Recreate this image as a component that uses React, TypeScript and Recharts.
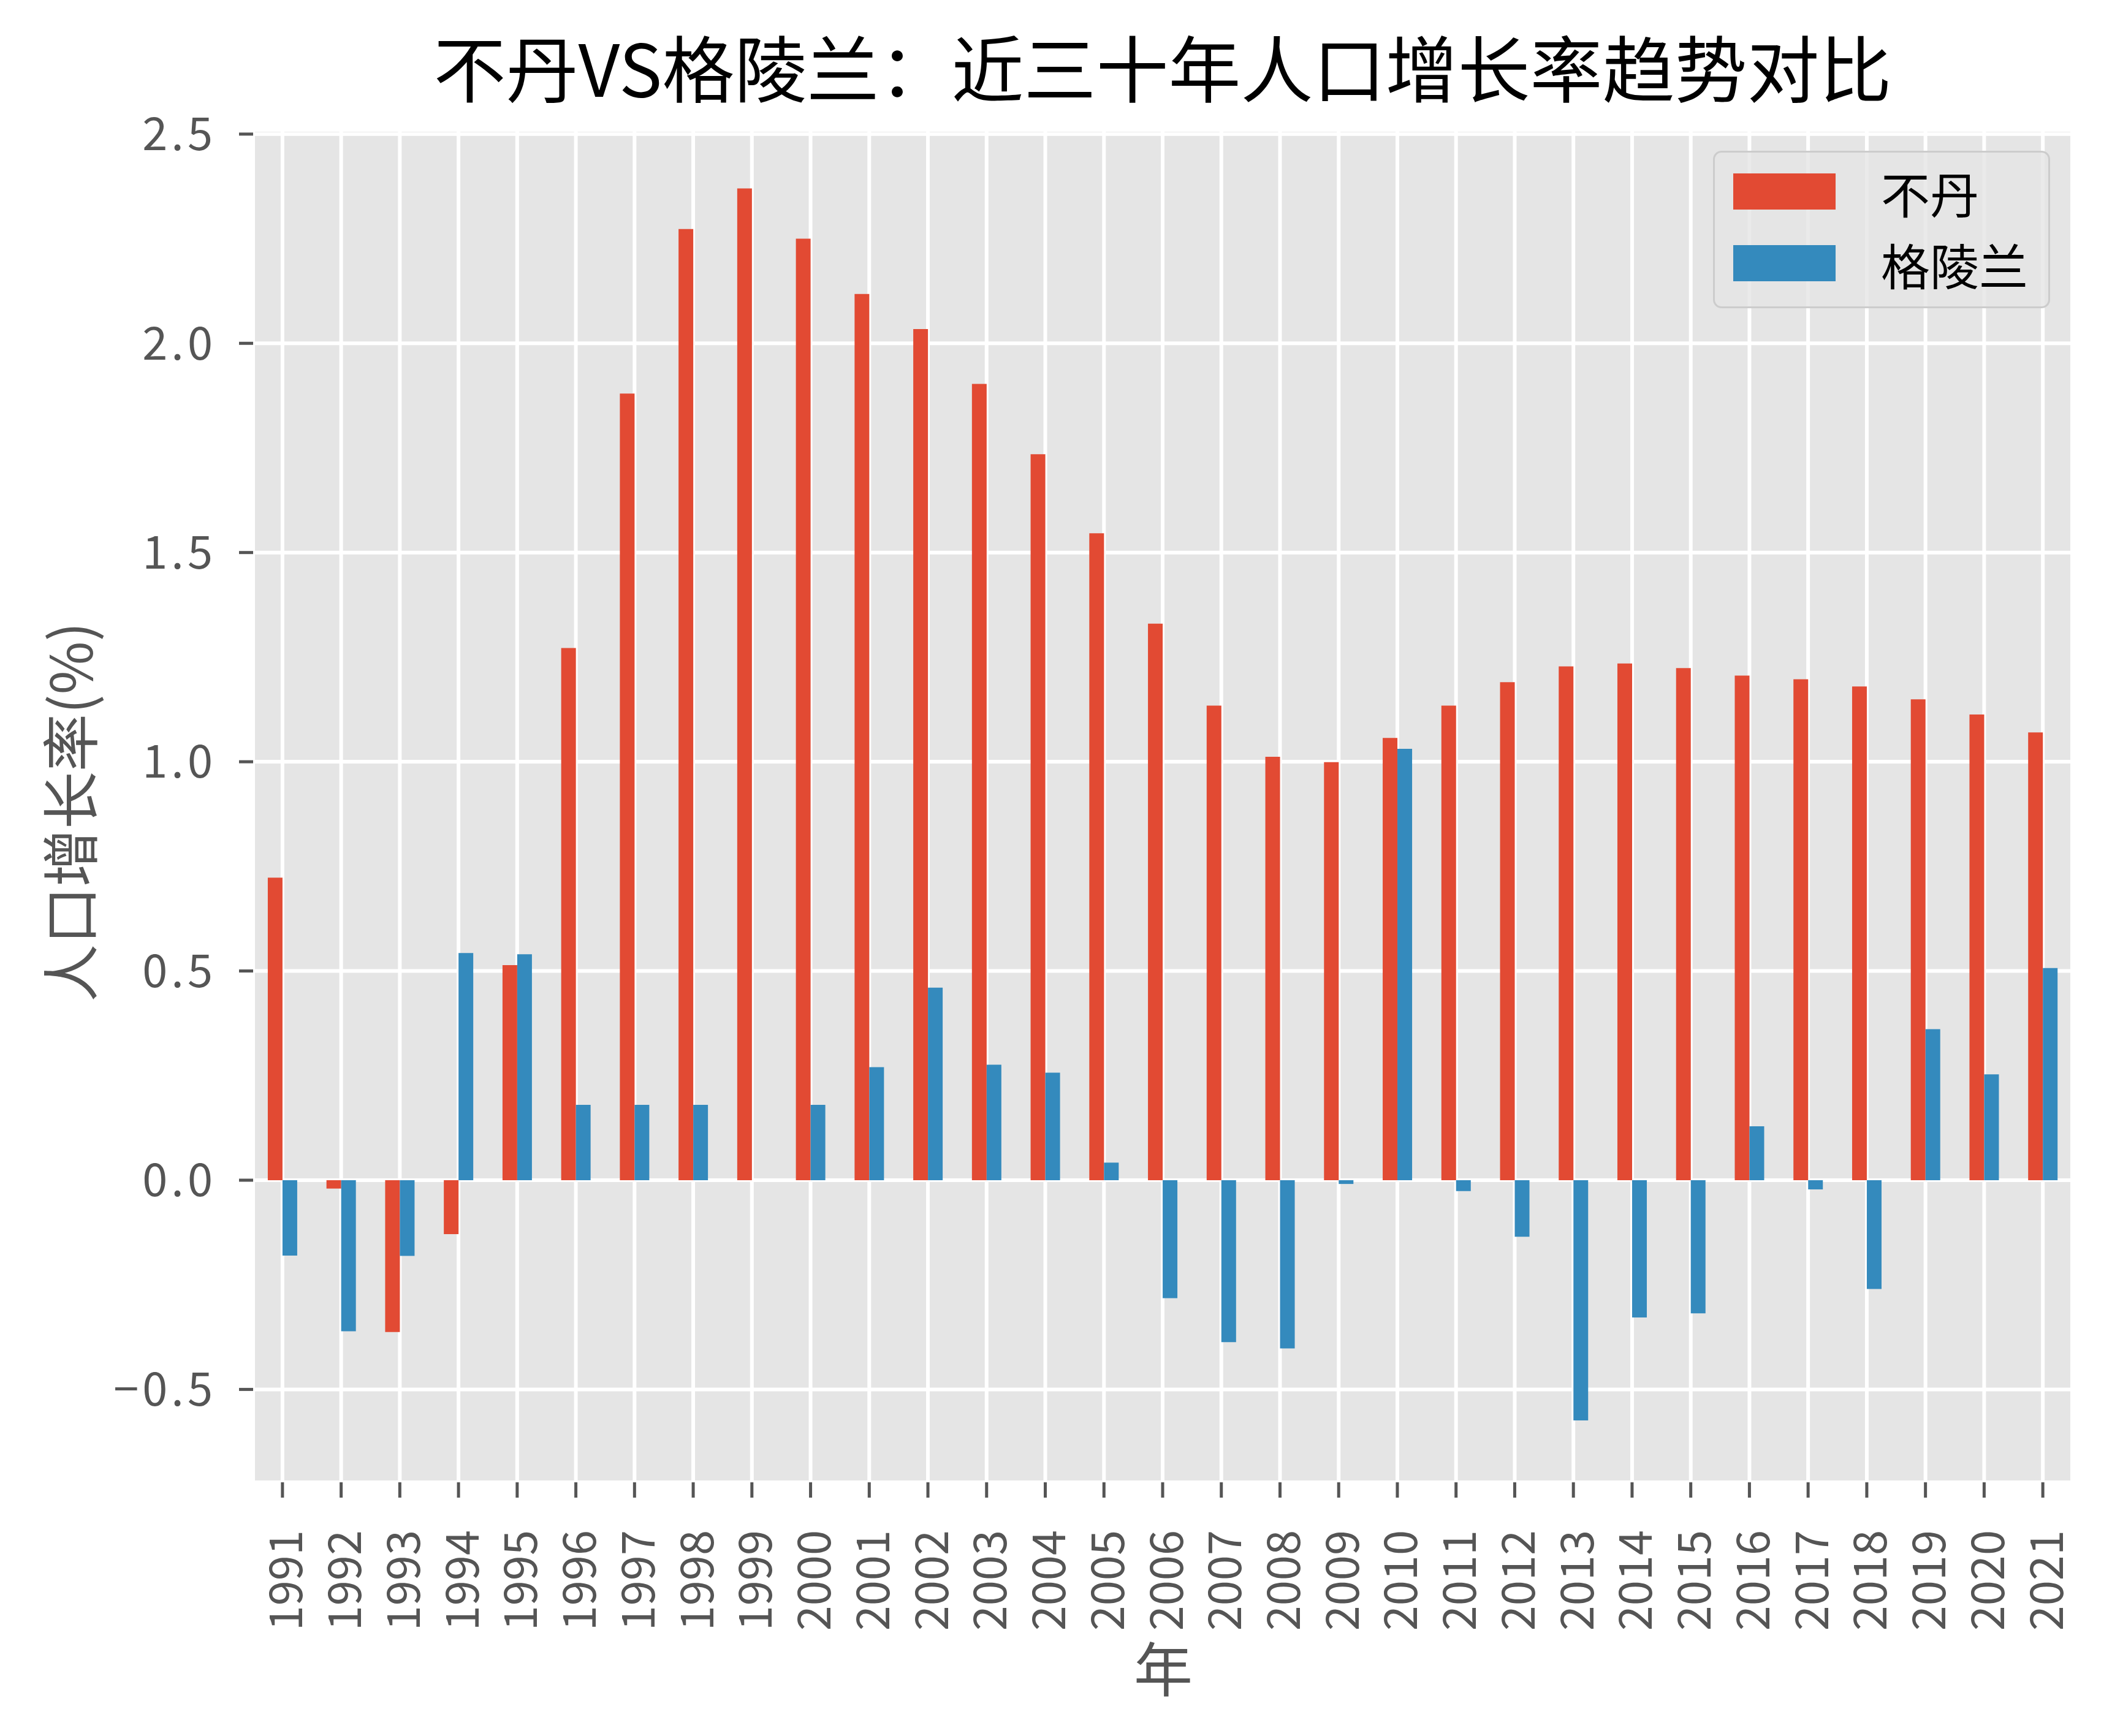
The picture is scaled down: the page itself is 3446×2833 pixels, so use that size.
import React from 'react';
import { BarChart, Bar, XAxis, YAxis, CartesianGrid, Legend } from 'recharts';

const years = [
  '1991', '1992', '1993', '1994', '1995', '1996', '1997', '1998', '1999', '2000',
  '2001', '2002', '2003', '2004', '2005', '2006', '2007', '2008', '2009', '2010',
  '2011', '2012', '2013', '2014', '2015', '2016', '2017', '2018', '2019', '2020', '2021',
];

const bhutan = [
  0.723, -0.020, -0.363, -0.129, 0.514, 1.272, 1.880, 2.273, 2.370, 2.250,
  2.118, 2.034, 1.903, 1.735, 1.546, 1.330, 1.134, 1.012, 0.999, 1.057,
  1.134, 1.190, 1.228, 1.235, 1.224, 1.206, 1.197, 1.180, 1.149, 1.113, 1.070,
];

const greenland = [
  -0.180, -0.361, -0.181, 0.543, 0.540, 0.180, 0.180, 0.180, 0.000, 0.180,
  0.270, 0.460, 0.276, 0.257, 0.042, -0.282, -0.387, -0.402, -0.009, 1.031,
  -0.026, -0.135, -0.574, -0.328, -0.318, 0.129, -0.022, -0.260, 0.361, 0.253, 0.507,
];

const yTicks = [-0.5, 0, 0.5, 1.0, 1.5, 2.0, 2.5];
const seriesNames = ['不丹', '格陵兰'];
const seriesColors = ['#E24A33', '#348ABD'];
const titleText = '不丹VS格陵兰：近三十年人口增长率趋势对比';
const yLabelText = '人口增长率(%)';
const xLabelText = '年';

const data = years.map((y, i) => ({ year: y, bhutan: bhutan[i], greenland: greenland[i] }));

const FONT = '"Noto Sans CJK SC", "Noto Sans", sans-serif';
const TICK_COLOR = '#555555';

const formatY = (v: number) => {
  const s = Math.abs(v).toFixed(1);
  return v < 0 ? '\u2212' + s : s;
};

const XTick = (props: any) => {
  const { x, y, payload } = props;
  return (
    <text
      x={x}
      y={y}
      transform={`rotate(-90, ${x}, ${y})`}
      textAnchor="end"
      dominantBaseline="central"
      fill={TICK_COLOR}
      fontSize={74}
      fontFamily={FONT}
    >
      {payload.value}
    </text>
  );
};

const LegendContent = (props: any) => {
  const payload = [...(props.payload || [])].sort(
    (a: any, b: any) => seriesNames.indexOf(a.value) - seriesNames.indexOf(b.value)
  );
  return (
    <div
      style={{
        boxSizing: 'border-box',
        width: 550,
        height: 257,
        border: '3px solid #CCCCCC',
        borderRadius: 14,
        background: 'rgba(229,229,229,0.8)',
        paddingTop: 5,
        paddingLeft: 30,
        fontFamily: FONT,
      }}
    >
      {payload.map((p: any) => (
        <div key={p.value} style={{ display: 'flex', alignItems: 'center', height: 117 }}>
          <div style={{ width: 167, height: 59, background: p.color }} />
          <span style={{ marginLeft: 74, fontSize: 80, color: '#000000', lineHeight: 1 }}>{p.value}</span>
        </div>
      ))}
    </div>
  );
};

export default function App() {
  return (
    <div
      style={{
        position: 'absolute',
        left: 0,
        top: 0,
        width: 3446,
        height: 2833,
        background: '#FFFFFF',
        fontFamily: FONT,
      }}
    >
      <BarChart
        width={3446}
        height={2833}
        data={data}
        margin={{ top: 212, right: 65, bottom: 0, left: 0 }}
        barCategoryGap="25%"
        barGap={0}
      >
        <CartesianGrid stroke="#FFFFFF" strokeWidth={6} fill="#E5E5E5" />
        <XAxis
          dataKey="year"
          type="category"
          interval={0}
          height={414}
          axisLine={false}
          tickLine={{ stroke: TICK_COLOR, strokeWidth: 5 }}
          tickSize={25}
          tickMargin={53}
          tick={<XTick />}
        />
        <YAxis
          width={413}
          domain={[-0.722, 2.51]}
          ticks={yTicks}
          allowDataOverflow
          axisLine={false}
          tickLine={{ stroke: TICK_COLOR, strokeWidth: 5 }}
          tickSize={23}
          tickMargin={37}
          tickFormatter={formatY}
          tick={{ fill: TICK_COLOR, fontSize: 74, fontFamily: FONT, letterSpacing: 6 }}
        />
        <Legend
          content={<LegendContent />}
          layout="vertical"
          align="center"
          verticalAlign="middle"
          wrapperStyle={{ left: 2795, top: 246, width: 550, height: 257 }}
        />
        <Bar dataKey="bhutan" name={seriesNames[0]} fill={seriesColors[0]} isAnimationActive={false} />
        <Bar dataKey="greenland" name={seriesNames[1]} fill={seriesColors[1]} isAnimationActive={false} />
      </BarChart>

      <div
        style={{
          position: 'absolute',
          left: 1897,
          top: 107,
          transform: 'translate(-50%, -50%)',
          fontSize: 118,
          lineHeight: 1,
          whiteSpace: 'nowrap',
          color: '#000000',
          fontWeight: 400,
        }}
      >
        {titleText}
      </div>
      <div
        style={{
          position: 'absolute',
          left: 110,
          top: 1325,
          transform: 'translate(-50%, -50%) rotate(-90deg)',
          fontSize: 94,
          lineHeight: 1,
          whiteSpace: 'nowrap',
          color: TICK_COLOR,
        }}
      >
        {yLabelText}
      </div>
      <div
        style={{
          position: 'absolute',
          left: 1898,
          top: 2719,
          transform: 'translate(-50%, -50%)',
          fontSize: 96,
          lineHeight: 1,
          whiteSpace: 'nowrap',
          color: TICK_COLOR,
        }}
      >
        {xLabelText}
      </div>
    </div>
  );
}
